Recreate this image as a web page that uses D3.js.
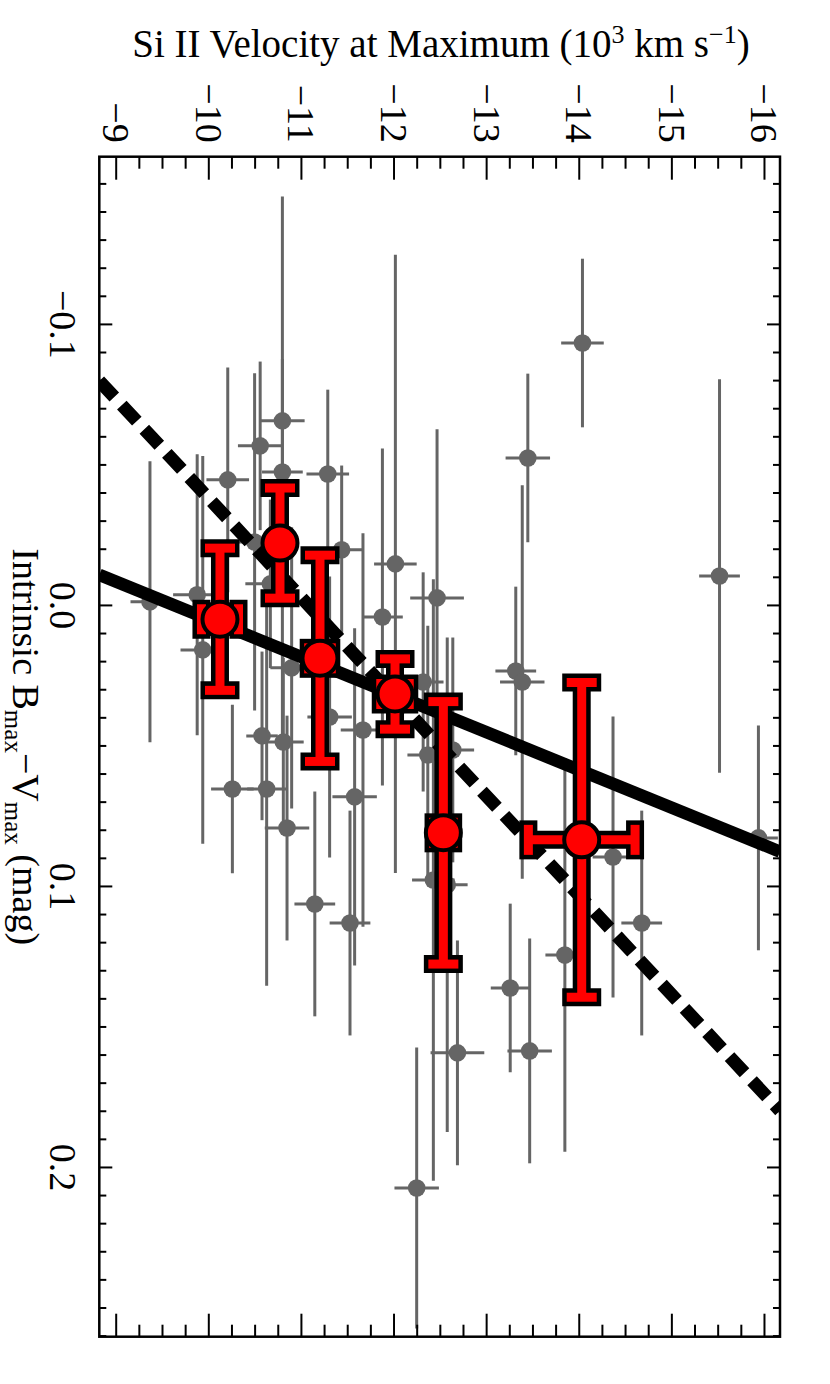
<!DOCTYPE html>
<html><head><meta charset="utf-8">
<script src="https://cdn.jsdelivr.net/npm/d3@7"></script>
<style>
body{margin:0;background:#fff;}
text{font-family:"Liberation Serif","Times New Roman",Times,serif;fill:#000;}
</style>
</head><body>
<svg id="chart" width="830" height="1384"></svg>
<script>
// ---------- data ----------
const grayVel = [-9.37,-9.88,-10.21,-10.56,-10.80,-10.80,-11.29,-11.44,-10.50,-10.67,-9.94,-10.58,-10.81,-10.26,-10.63,-10.85,-11.15,-11.53,-10.90,-11.31,-11.58,-11.88,-12.47,-11.67,-12.32,-12.37,-12.64,-13.32,-13.39,-13.26,-13.85,-14.37,-14.68,-15.94,-12.69,-13.47,-12.25,-12.02,-13.45,-14.04,-15.52,-12.43,-12.58];
const grayVelErr = [0.21,0.26,0.23,0.24,0.24,0.22,0.23,0.23,0.22,0.27,0.24,0.17,0.22,0.23,0.21,0.24,0.22,0.22,0.23,0.24,0.24,0.22,0.29,0.24,0.22,0.22,0.23,0.22,0.24,0.21,0.21,0.22,0.22,0.21,0.29,0.24,0.24,0.23,0.24,0.23,0.22,0.23,0.22];
const grayColor = [-0.0011,-0.0036,-0.0445,-0.0566,-0.0655,-0.0473,-0.0466,-0.0196,-0.0224,-0.0075,0.0160,0.0466,0.0488,0.0655,0.0655,0.0794,0.1064,0.1132,0.0224,0.0399,0.0683,0.0043,-0.0025,0.0445,0.0274,0.0534,0.0516,0.0235,0.0274,0.1363,0.1246,0.0897,0.1132,0.0829,0.1594,0.1587,0.2075,-0.0146,-0.0523,-0.0932,-0.0103,0.0979,0.0996];
const grayColorErr = [0.050,0.050,0.040,0.030,0.022,0.098,0.030,0.030,0.060,0.030,0.069,0.030,0.030,0.030,0.070,0.040,0.040,0.040,0.050,0.050,0.060,0.060,0.060,0.070,0.039,0.046,0.040,0.030,0.070,0.030,0.070,0.050,0.040,0.040,0.040,0.040,0.050,0.110,0.030,0.030,0.070,0.107,0.088];

const binVel = [-10.126,-10.774,-11.206,-12.016,-12.538,-14.032];
const binVelErr = [0.20,0,0.122,0.154,0.106,0.576];
const binColor = [0.0051,-0.0220,0.0190,0.0317,0.0811,0.0836];
const binColorErr = [0.0253,0.0196,0.0367,0.0125,0.0467,0.056];

const fitVel = [-8.823,-16.173];
const solidFitColor = [-0.0107,0.0878];
const dashedFitColor = [-0.0797,0.180];

const xTickValues = [-9,-10,-11,-12,-13,-14,-15,-16];
const xTickLabels = ["\u22129","\u221210","\u221211","\u221212","\u221213","\u221214","\u221215","\u221216"];
const yTickValues = [-0.1,0.0,0.1,0.2];
const yTickLabels = ["\u22120.1","0.0","0.1","0.2"];

// ---------- layout ----------
const L = 99.3, R = 780, T = 156.7, B = 1336.7;
const svg = d3.select("#chart");
svg.append("rect").attr("width",830).attr("height",1384).attr("fill","#fff");

const x = d3.scaleLinear().domain([-8.823,-16.173]).range([L,R]);
const y = d3.scaleLinear().domain([-0.1595,0.2604]).range([T,B]);

const xMinor = d3.range(0,29).map(i => +(-9 - i*0.25).toFixed(2)).filter(v => !xTickValues.includes(v));
const yMinor = d3.range(0,42).map(i => +(-0.15 + i*0.01).toFixed(2)).filter(v => !yTickValues.some(t => Math.abs(t-v)<1e-9));

const defs = svg.append("defs");
defs.append("clipPath").attr("id","clip").append("rect").attr("x",L).attr("y",T).attr("width",R-L).attr("height",B-T);

const plot = svg.append("g").attr("clip-path","url(#clip)");

// ---------- gray individual SNe ----------
const gray = "#656565";
const grayData = grayVel.map((v,i)=>({v, ev:grayVelErr[i], c:grayColor[i], ec:grayColorErr[i]}));
const gG = plot.append("g");
gG.selectAll("line.gv").data(grayData).join("line")
  .attr("x1",d=>x(d.v)).attr("x2",d=>x(d.v))
  .attr("y1",d=>y(d.c-d.ec)).attr("y2",d=>y(d.c+d.ec))
  .attr("stroke",gray).attr("stroke-width",3);
gG.selectAll("line.gh").data(grayData).join("line")
  .attr("x1",d=>x(d.v-d.ev)).attr("x2",d=>x(d.v+d.ev))
  .attr("y1",d=>y(d.c)).attr("y2",d=>y(d.c))
  .attr("stroke",gray).attr("stroke-width",3);
gG.selectAll("circle").data(grayData).join("circle")
  .attr("cx",d=>x(d.v)).attr("cy",d=>y(d.c)).attr("r",8.8).attr("fill",gray);

// ---------- fit lines ----------
const line = d3.line().x(d=>x(d[0])).y(d=>y(d[1]));
plot.append("path").datum(fitVel.map((v,i)=>[v,solidFitColor[i]]))
  .attr("d",line).attr("stroke","#000").attr("stroke-width",12.5).attr("fill","none");
plot.append("path").datum(fitVel.map((v,i)=>[v,dashedFitColor[i]]))
  .attr("d",line).attr("stroke","#000").attr("stroke-width",13).attr("fill","none")
  .attr("stroke-dasharray","22,11");

// ---------- binned red points ----------
const binData = binVel.map((v,i)=>({v, ev:binVelErr[i], c:binColor[i], ec:binColorErr[i]}));
const capHalf = 15;
function segs(d){
  const cx = x(d.v), cy = y(d.c);
  const s = [];
  const yt = y(d.c-d.ec), yb = y(d.c+d.ec);
  s.push([cx,yt,cx,yb]);
  s.push([cx-capHalf,yt,cx+capHalf,yt]);
  s.push([cx-capHalf,yb,cx+capHalf,yb]);
  if (d.ev>0){
    const xl = x(d.v-d.ev), xr = x(d.v+d.ev);
    s.push([xl,cy,xr,cy]);
    s.push([xl,cy-capHalf,xl,cy+capHalf]);
    s.push([xr,cy-capHalf,xr,cy+capHalf]);
  }
  return s;
}
function extend(sg,e){
  const [x1,y1,x2,y2] = sg; const dx=x2-x1, dy=y2-y1, len=Math.hypot(dx,dy)||1;
  const ux=dx/len*e, uy=dy/len*e;
  return [x1-ux,y1-uy,x2+ux,y2+uy];
}
const rG = svg.append("g");
binData.forEach(d=>{
  const g = rG.append("g");
  const s = segs(d);
  g.selectAll("line.k").data(s.map(q=>extend(q,4.5))).join("line")
    .attr("x1",q=>q[0]).attr("y1",q=>q[1]).attr("x2",q=>q[2]).attr("y2",q=>q[3])
    .attr("stroke","#000").attr("stroke-width",18);
  g.selectAll("line.r").data(s).join("line")
    .attr("x1",q=>q[0]).attr("y1",q=>q[1]).attr("x2",q=>q[2]).attr("y2",q=>q[3])
    .attr("stroke","#ff0000").attr("stroke-width",9);
  g.append("circle").attr("cx",x(d.v)).attr("cy",y(d.c)).attr("r",17.5)
    .attr("fill","#ff0000").attr("stroke","#000").attr("stroke-width",4);
});

// ---------- axes ----------
function styleAxis(g){
  g.select(".domain").remove();
  g.selectAll(".tick line").attr("stroke","#000").attr("stroke-width",2);
  g.attr("font-family",null).attr("font-size",null);
}
const axTop = svg.append("g").attr("transform",`translate(0,${T})`)
  .call(d3.axisTop(x).tickValues(xTickValues).tickSizeInner(-23).tickSizeOuter(0).tickFormat((d,i)=>xTickLabels[i]));
styleAxis(axTop);
axTop.selectAll("text").attr("x",null).attr("y",null).attr("dy",null)
  .attr("text-anchor","end").attr("font-size",38)
  .attr("transform","translate(-13,-14) rotate(90)");
svg.append("g").attr("transform",`translate(0,${T})`)
  .call(d3.axisTop(x).tickValues(xMinor).tickSizeInner(-12).tickSizeOuter(0).tickFormat("")).call(styleAxis);
svg.append("g").attr("transform",`translate(0,${B})`)
  .call(d3.axisBottom(x).tickValues(xTickValues).tickSizeInner(-23).tickSizeOuter(0).tickFormat("")).call(styleAxis);
svg.append("g").attr("transform",`translate(0,${B})`)
  .call(d3.axisBottom(x).tickValues(xMinor).tickSizeInner(-12).tickSizeOuter(0).tickFormat("")).call(styleAxis);

const axLeft = svg.append("g").attr("transform",`translate(${L},0)`)
  .call(d3.axisLeft(y).tickValues(yTickValues).tickSizeInner(-13).tickSizeOuter(0).tickFormat((d,i)=>yTickLabels[i]));
styleAxis(axLeft);
axLeft.selectAll("text").attr("x",null).attr("y",null).attr("dy",null)
  .attr("text-anchor","middle").attr("font-size",38)
  .attr("transform","translate(-49,0) rotate(90)");
svg.append("g").attr("transform",`translate(${L},0)`)
  .call(d3.axisLeft(y).tickValues(yMinor).tickSizeInner(-7).tickSizeOuter(0).tickFormat("")).call(styleAxis);
svg.append("g").attr("transform",`translate(${R},0)`)
  .call(d3.axisRight(y).tickValues(yTickValues).tickSizeInner(-13).tickSizeOuter(0).tickFormat("")).call(styleAxis);
svg.append("g").attr("transform",`translate(${R},0)`)
  .call(d3.axisRight(y).tickValues(yMinor).tickSizeInner(-7).tickSizeOuter(0).tickFormat("")).call(styleAxis);

svg.append("rect").attr("x",L).attr("y",T).attr("width",R-L).attr("height",B-T)
  .attr("fill","none").attr("stroke","#000").attr("stroke-width",2.5);

// ---------- titles ----------
const title = svg.append("text").attr("x",441).attr("y",57).attr("text-anchor","middle").attr("font-size",39);
title.append("tspan").text("Si II Velocity at Maximum (10");
title.append("tspan").attr("dy",-14).attr("font-size",26).text("3");
title.append("tspan").attr("dy",14).text(" km s");
title.append("tspan").attr("dy",-14).attr("font-size",26).text("\u22121");
title.append("tspan").attr("dy",14).text(")");

const ylab = svg.append("text").attr("text-anchor","middle").attr("font-size",38)
  .attr("transform",`translate(13,${(T+B)/2}) rotate(90)`);
ylab.append("tspan").text("Intrinsic B");
ylab.append("tspan").attr("dy",8).attr("font-size",25).text("max");
ylab.append("tspan").attr("dy",-8).text("\u2212V");
ylab.append("tspan").attr("dy",8).attr("font-size",25).text("max");
ylab.append("tspan").attr("dy",-8).text(" (mag)");
</script>
</body></html>
